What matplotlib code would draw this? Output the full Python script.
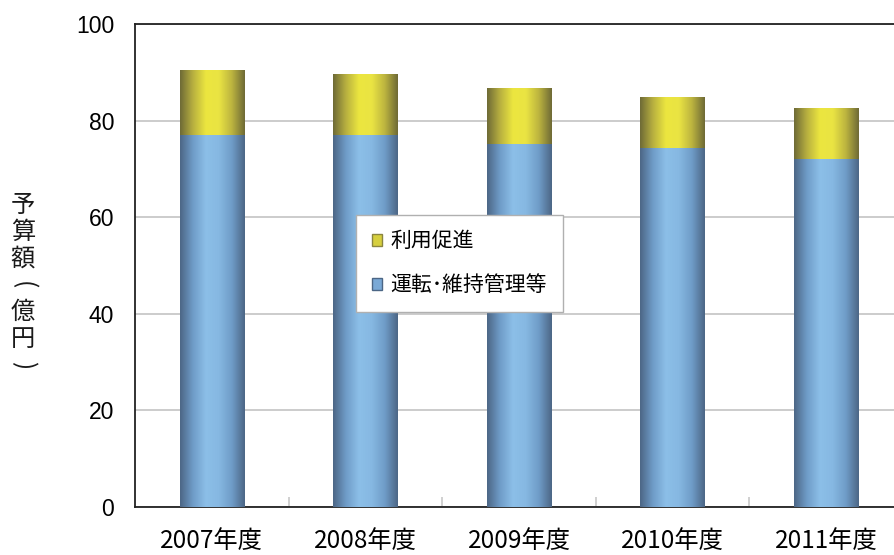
import numpy as np
import matplotlib
matplotlib.use("Agg")
import matplotlib.pyplot as plt
from matplotlib.colors import LinearSegmentedColormap
from matplotlib.patches import Patch

plt.rcParams['font.family'] = ['Noto Sans CJK JP', 'DejaVu Sans']

years = ["2007年度", "2008年度", "2009年度", "2010年度", "2011年度"]
operation = [77.0, 77.0, 75.2, 74.3, 72.0]   # 運転・維持管理等
promotion = [13.5, 12.6, 11.5, 10.6, 10.6]   # 利用促進
ylabel_chars = ["予", "算", "額", "(", "億", "円", ")"]

blue_cmap = LinearSegmentedColormap.from_list(
    "blue", ["#4c6685", "#6f9cc8", "#8cbfe8", "#86b8e2", "#6f9cc8", "#4c6685"])
yellow_cmap = LinearSegmentedColormap.from_list(
    "yellow", ["#6e6a36", "#b8b040", "#ece63f", "#eae443", "#bcb43f", "#6e6a36"])
grad = np.linspace(0, 1, 256).reshape(1, -1)


def shade(bars, cmap):
    # paint a horizontal gradient inside every bar
    for b in bars:
        x0, y0 = b.get_x(), b.get_y()
        w, h = b.get_width(), b.get_height()
        im = ax.imshow(grad, cmap=cmap, aspect='auto', interpolation='bicubic',
                       extent=(x0, x0 + w, y0, y0 + h), zorder=3)
        im.set_clip_path(b)


fig = plt.figure(figsize=(8.94, 5.55), dpi=100)
ax = fig.add_axes([135 / 894, 48 / 555, 768 / 894, 483 / 555])

x = np.arange(len(years))
width = 0.42
b1 = ax.bar(x, operation, width, color="#7aa9d6", zorder=2, label="運転・維持管理等")
b2 = ax.bar(x, promotion, width, bottom=operation, color="#d6cf3e", zorder=2, label="利用促進")
shade(b1, blue_cmap)
shade(b2, yellow_cmap)

ax.set_xlim(-0.5, len(years) - 0.5)
ax.set_ylim(0, 100)
ax.set_yticks(range(0, 101, 20))
ax.set_yticklabels([str(v) for v in range(0, 101, 20)], family='Liberation Sans', fontsize=16.5)
ax.yaxis.grid(True, color="#c8c8c8", lw=1.3, zorder=0)
ax.set_axisbelow(True)

ax.set_xticks(x)
ax.set_xticklabels(years, fontsize=17.5)
ax.set_xticks(np.arange(0.5, len(years) - 0.5, 1), minor=True)
ax.tick_params(axis='x', which='major', length=0, pad=15)
ax.tick_params(axis='x', which='minor', direction='in', length=7, color="#c8c8c8", width=1.2)
ax.tick_params(axis='y', length=0, pad=15)

for s in ['left', 'bottom', 'top']:
    ax.spines[s].set_color('#222222')
    ax.spines[s].set_linewidth(1.3)
ax.spines['right'].set_visible(False)

# vertical y label, one character at a time (brackets turned for vertical writing)
for i, ch in enumerate(ylabel_chars):
    rot = -90 if ch in "()" else 0
    fig.text(23 / 894, 1 - (205 + i * 26.7) / 555, ch, fontsize=17.5,
             ha='center', va='center', rotation=rot, color='#1a1a1a')

handles = [Patch(facecolor="#d6cf3e", edgecolor="#8a8540", label="利用促進"),
           Patch(facecolor="#7aa9d6", edgecolor="#4c6685", label="運転･維持管理等")]
leg = ax.legend(handles=handles, loc='upper left', bbox_to_anchor=(0.288, 0.605),
                fontsize=15, frameon=True, fancybox=False, framealpha=1, borderpad=0.75,
                labelspacing=1.05, handlelength=0.5, handleheight=0.5,
                handletextpad=0.4, borderaxespad=0)
leg.get_frame().set_edgecolor("#b0b0b0")
leg.get_frame().set_linewidth(1.0)
leg.set_zorder(5)

fig.savefig("out.png", dpi=100)
